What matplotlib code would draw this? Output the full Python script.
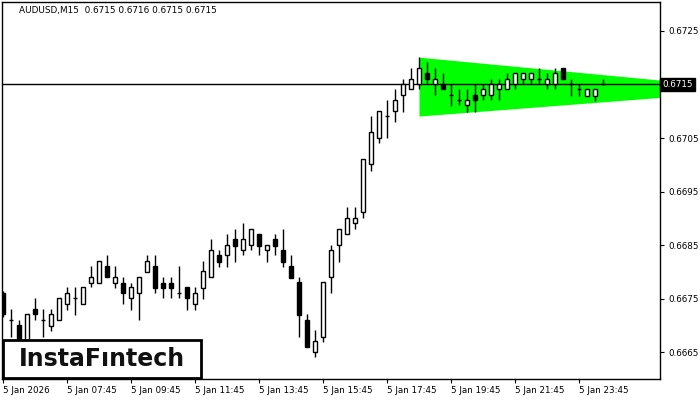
import numpy as np
import matplotlib
matplotlib.use('Agg')
import matplotlib.pyplot as plt
from matplotlib.patches import Rectangle
import matplotlib.transforms as mtransforms

# AUDUSD M15 candles (open, high, low, close)
opens = [0.66760, 0.66710, 0.66701, 0.66669, 0.66731, 0.66710, 0.66699, 0.66710, 0.66740, 0.66751,
         0.66740, 0.66779, 0.66779, 0.66811, 0.66779, 0.66779, 0.66751, 0.66761, 0.66800, 0.66811,
         0.66779, 0.66779, 0.66761, 0.66772, 0.66740, 0.66770, 0.66790, 0.66831, 0.66831, 0.66861,
         0.66841, 0.66850, 0.66871, 0.66841, 0.66861, 0.66841, 0.66811, 0.66781, 0.66710, 0.66650,
         0.66678, 0.66790, 0.66850, 0.66871, 0.66891, 0.66912, 0.67001, 0.67050, 0.67091, 0.67100,
         0.67130, 0.67141, 0.67151, 0.67171, 0.67151, 0.67151, 0.67130, 0.67121, 0.67111, 0.67130,
         0.67130, 0.67130, 0.67141, 0.67141, 0.67151, 0.67160, 0.67160, 0.67160, 0.67151, 0.67151,
         0.67180, 0.67151, 0.67141, 0.67128, 0.67128, 0.67150]
highs = [0.66765, 0.66731, 0.66710, 0.66722, 0.66751, 0.66731, 0.66731, 0.66751, 0.66772, 0.66772,
         0.66772, 0.66811, 0.66820, 0.66831, 0.66811, 0.66790, 0.66779, 0.66790, 0.66831, 0.66831,
         0.66790, 0.66790, 0.66811, 0.66772, 0.66772, 0.66820, 0.66861, 0.66841, 0.66871, 0.66880,
         0.66891, 0.66880, 0.66871, 0.66850, 0.66871, 0.66880, 0.66831, 0.66790, 0.66721, 0.66692,
         0.66781, 0.66850, 0.66880, 0.66921, 0.66921, 0.67011, 0.67091, 0.67100, 0.67121, 0.67141,
         0.67160, 0.67180, 0.67201, 0.67192, 0.67180, 0.67171, 0.67151, 0.67141, 0.67141, 0.67151,
         0.67151, 0.67160, 0.67160, 0.67171, 0.67171, 0.67171, 0.67171, 0.67180, 0.67171, 0.67180,
         0.67180, 0.67160, 0.67151, 0.67141, 0.67141, 0.67160]
lows = [0.66715, 0.66678, 0.66654, 0.66660, 0.66710, 0.66678, 0.66690, 0.66710, 0.66729, 0.66719,
        0.66740, 0.66772, 0.66779, 0.66790, 0.66770, 0.66740, 0.66729, 0.66710, 0.66800, 0.66761,
        0.66751, 0.66751, 0.66751, 0.66729, 0.66729, 0.66749, 0.66790, 0.66809, 0.66809, 0.66818,
        0.66831, 0.66841, 0.66831, 0.66818, 0.66831, 0.66809, 0.66789, 0.66678, 0.66660, 0.66641,
        0.66669, 0.66761, 0.66818, 0.66871, 0.66880, 0.66901, 0.66988, 0.67040, 0.67050, 0.67080,
        0.67098, 0.67141, 0.67141, 0.67151, 0.67130, 0.67141, 0.67109, 0.67111, 0.67098, 0.67098,
        0.67121, 0.67121, 0.67121, 0.67141, 0.67141, 0.67151, 0.67151, 0.67151, 0.67141, 0.67141,
        0.67160, 0.67128, 0.67128, 0.67128, 0.67119, 0.67150]
closes = [0.66721, 0.66710, 0.66663, 0.66721, 0.66721, 0.66710, 0.66721, 0.66751, 0.66761, 0.66751,
          0.66772, 0.66790, 0.66820, 0.66790, 0.66790, 0.66761, 0.66772, 0.66790, 0.66820, 0.66770,
          0.66770, 0.66770, 0.66761, 0.66751, 0.66761, 0.66802, 0.66841, 0.66818, 0.66850, 0.66848,
          0.66861, 0.66880, 0.66848, 0.66850, 0.66848, 0.66818, 0.66789, 0.66719, 0.66660, 0.66671,
          0.66781, 0.66841, 0.66880, 0.66901, 0.66901, 0.67011, 0.67061, 0.67100, 0.67091, 0.67121,
          0.67151, 0.67160, 0.67180, 0.67160, 0.67160, 0.67141, 0.67130, 0.67121, 0.67121, 0.67121,
          0.67141, 0.67151, 0.67151, 0.67160, 0.67171, 0.67171, 0.67171, 0.67160, 0.67160, 0.67171,
          0.67160, 0.67151, 0.67141, 0.67141, 0.67141, 0.67150]

# triangle pattern (bar index, upper and lower bounds)
tri_x = [52, 82.3]
tri_top = [0.67201, 0.67158]
tri_bot = [0.67091, 0.67126]

bid = 0.6715
y_ticks = [0.6665, 0.6675, 0.6685, 0.6695, 0.6705, 0.6715, 0.6725]
x_tick_pos = [0, 8, 16, 24, 32, 40, 48, 56, 64, 72]
x_tick_labels = ['5 Jan 2026', '5 Jan 07:45', '5 Jan 09:45', '5 Jan 11:45', '5 Jan 13:45',
                 '5 Jan 15:45', '5 Jan 17:45', '5 Jan 19:45', '5 Jan 21:45', '5 Jan 23:45']

o = np.array(opens); h = np.array(highs); l = np.array(lows); c = np.array(closes)
x = np.arange(len(o))

fig = plt.figure(figsize=(7, 4), dpi=100)
ax = fig.add_axes([2/700, 21/400, 658/700, 377/400])

# pattern
ax.fill_between(tri_x, tri_bot, tri_top, color='#00ff00', lw=0, zorder=1)
ax.axhline(bid, color='black', lw=1, zorder=2)

# wicks
ax.vlines(x, l, h, color='black', lw=1, zorder=3)
# bodies
w = 0.6
for i in range(len(x)):
    if abs(c[i] - o[i]) < 1e-6:
        ax.hlines(o[i], x[i] - w/2, x[i] + w/2, color='black', lw=1, zorder=4)
    else:
        fc = 'white' if c[i] > o[i] else 'black'
        ax.add_patch(Rectangle((x[i] - w/2, min(o[i], c[i])), w, abs(c[i] - o[i]),
                               facecolor=fc, edgecolor='black', lw=1, zorder=4))

ax.set_xlim(-0.125, 82.125)
ax.set_ylim(0.66600, 0.67304)

ax.yaxis.tick_right()
ax.set_yticks(y_ticks)
# the bid label box sits on the 0.6715 tick
ax.set_yticklabels(['' if abs(v - bid) < 1e-7 else '%.4f' % v for v in y_ticks])
ax.set_xticks(x_tick_pos)
ax.set_xticklabels(x_tick_labels, ha='left')
ax.tick_params(axis='both', direction='out', length=3, width=0.8, labelsize=6.3, pad=2)
ax.tick_params(axis='y', pad=3)
for s in ax.spines.values():
    s.set_linewidth(1)

# current price label
trans = mtransforms.blended_transform_factory(ax.transAxes, ax.transData)
ax.text(1.004, bid, '0.6715', transform=trans, fontsize=6.3, color='white', va='center', ha='left',
        bbox=dict(boxstyle='square,pad=0.25', fc='black', ec='black'), zorder=10, clip_on=False)

# header
ax.text(17/658, 1 - 9/377, 'AUDUSD,M15  0.6715 0.6716 0.6715 0.6715', transform=ax.transAxes,
        fontsize=6.4, va='center', ha='left')

# logo
fig.add_artist(Rectangle((3/700, 22/400), 198/700, 38/400, transform=fig.transFigure,
                         facecolor='white', edgecolor='black', lw=2, zorder=20))
fig.text(102/700, 1 - 359/400, 'InstaFıntech', fontsize=17, fontweight='bold', color='#111111',
         ha='center', va='center', zorder=21)

plt.savefig('out.png', dpi=100)
